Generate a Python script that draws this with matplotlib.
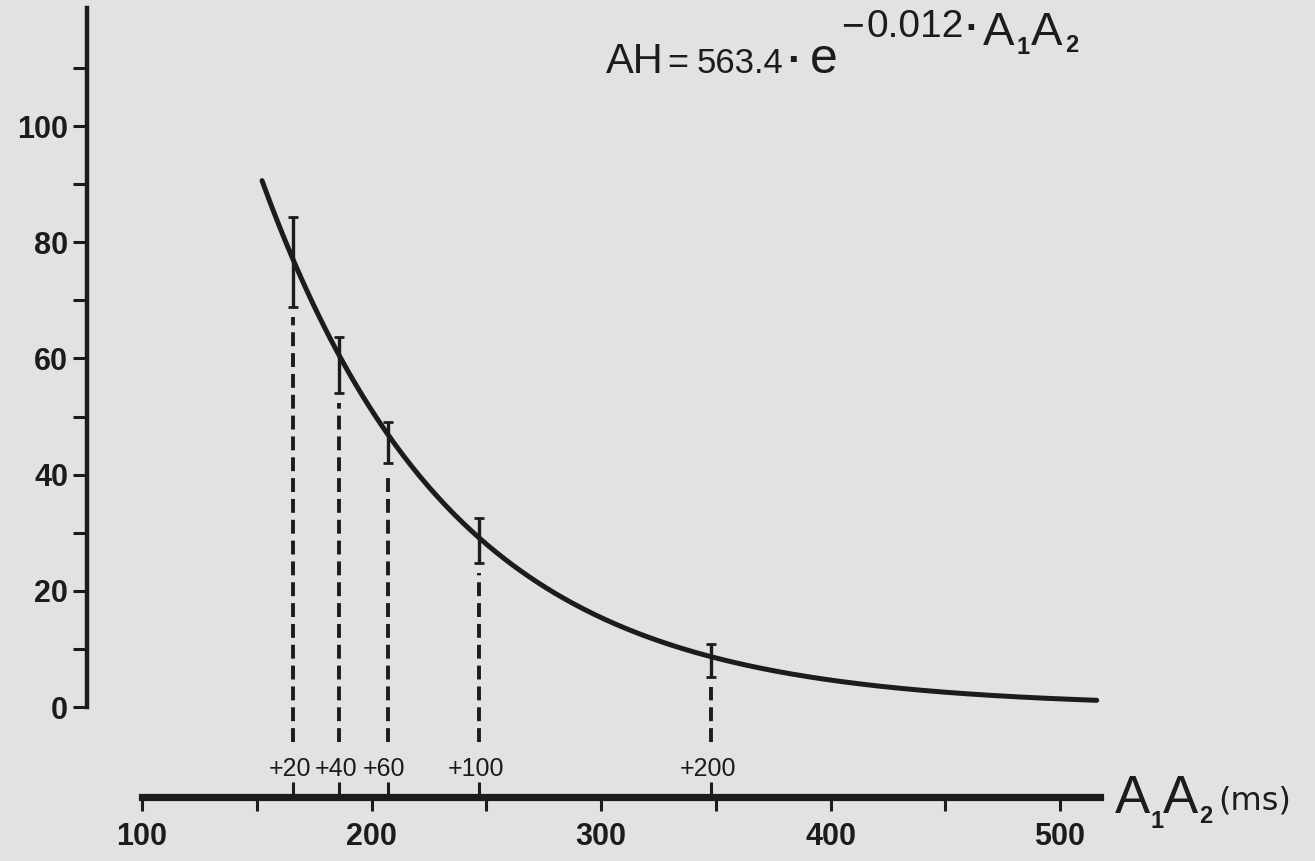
import numpy as np
import matplotlib
matplotlib.use("Agg")
import matplotlib.pyplot as plt

# ---- data -------------------------------------------------------------
# coupling intervals of the paced beats (ms) and their offset labels
a1a2_ms = [166, 186, 207, 247, 348]
offset_labels = ["+20", "+40", "+60", "+100", "+200"]
# AH interval (ms): mean and error
ah_mean = [76.6, 58.9, 45.5, 28.7, 8.0]
ah_err = [7.7, 4.8, 3.5, 3.9, 2.8]
# exponential fit  AH = 563.4 * exp(-0.012 * A1A2)
fit_coef = 563.4
fit_rate = 0.012
fit_start, fit_end = 152.3, 516.0

y_major = [0, 20, 40, 60, 80, 100]
y_minor = [10, 30, 50, 70, 90, 110]
x_major = [100, 200, 300, 400, 500]
x_minor = [150, 250, 350, 450]

# ---- style ------------------------------------------------------------
BG = "#e2e2e2"
INK = "#1c1c1c"
FONT = "Liberation Sans"
plt.rcParams["font.family"] = [FONT, "DejaVu Sans"]
plt.rcParams["lines.scale_dashes"] = False

W, H = 1315, 861
fig = plt.figure(figsize=(W / 100, H / 100), dpi=100, facecolor=BG)


def fpos(x, y):
    """pixel position (from top-left) -> figure fraction"""
    return x / W, 1 - y / H


ax = fig.add_axes([87 / W, (H - 797) / H, (1100 - 87) / W, (797 - 8) / H])
ax.set_facecolor(BG)
ax.set_xlim(76.03, 517.43)
ax.set_ylim(-15.49, 120.31)

for s in ("top", "right"):
    ax.spines[s].set_visible(False)
ax.spines["left"].set_bounds(0, 120.31)
ax.spines["left"].set_linewidth(3.2)
ax.spines["left"].set_color(INK)
ax.spines["bottom"].set_bounds(100, 517.43)
ax.spines["bottom"].set_linewidth(5.2)
ax.spines["bottom"].set_color(INK)

ax.set_yticks(y_major)
ax.set_yticks(y_minor, minor=True)
ax.set_xticks(x_major)
ax.set_xticks(x_minor, minor=True)
ax.tick_params(axis="both", which="both", direction="out", color=INK,
               length=10, width=2.2, labelcolor=INK, labelsize=22)
ax.tick_params(axis="y", pad=3.5)
ax.tick_params(axis="x", pad=8)
for lab in ax.get_xticklabels() + ax.get_yticklabels():
    lab.set_fontweight("bold")

# short marks above the time axis at the stimulated intervals
sec = ax.secondary_xaxis("bottom")
sec.set_xticks(a1a2_ms)
sec.set_xticklabels([])
sec.spines["bottom"].set_visible(False)
sec.tick_params(direction="in", length=11, width=2.2, color=INK)

# fitted exponential curve
xc = np.linspace(fit_start, fit_end, 400)
yc = fit_coef * np.exp(-fit_rate * xc)
ax.plot(xc, yc, color=INK, lw=3.6, solid_capstyle="round", zorder=3)

# mean +/- error
ax.errorbar(a1a2_ms, ah_mean, yerr=ah_err, fmt="none", ecolor=INK,
            elinewidth=2.4, capsize=3.8, capthick=2.0, zorder=4)

# dashed drop lines to the axis
lows = [m - e - 1.8 for m, e in zip(ah_mean, ah_err)]
ax.vlines(a1a2_ms, -6.0, lows, colors=INK, linewidth=2.8,
          linestyles=[(0, (10.0, 5.0))], zorder=2)

for x, lab in zip(a1a2_ms, offset_labels):
    ax.text(x - 1.5, -11.8, lab, ha="center", va="baseline", fontsize=18,
            color=INK)

# axis title  A1A2(ms)
fig.text(*fpos(1115, 813), "A", fontsize=38, color=INK, ha="left", va="baseline")
fig.text(*fpos(1151, 828), "1", fontsize=17, fontweight="bold", color=INK,
         ha="left", va="baseline")
fig.text(*fpos(1163, 813), "A", fontsize=38, color=INK, ha="left", va="baseline")
fig.text(*fpos(1199, 823), "2", fontsize=17, fontweight="bold", color=INK,
         ha="left", va="baseline")
fig.text(*fpos(1218, 810), "(ms)", fontsize=23, color=INK, ha="left",
         va="baseline", family=["DejaVu Sans"])

# fitted equation
eq_parts = [
    (606, 73, "AH", 30, "normal"),
    (667, 73, "=", 26, "normal"),
    (697, 73, "563.4", 25, "normal"),
    (787, 73, "\u00b7", 30, "bold"),
    (810, 73, "e", 36, "normal"),
    (841, 37, "\u2212", 28, "normal"),
    (866, 37, "0.012", 28, "normal"),
    (965, 40, "\u00b7", 28, "bold"),
    (983, 45, "A", 34, "normal"),
    (1016, 54, "1", 17, "bold"),
    (1031, 45, "A", 34, "normal"),
    (1065, 52, "2", 17, "bold"),
]
for x, y, s, size, weight in eq_parts:
    fig.text(*fpos(x, y), s, fontsize=size, fontweight=weight, color=INK,
             ha="left", va="baseline")

fig.savefig("out.png", dpi=100, facecolor=BG)
